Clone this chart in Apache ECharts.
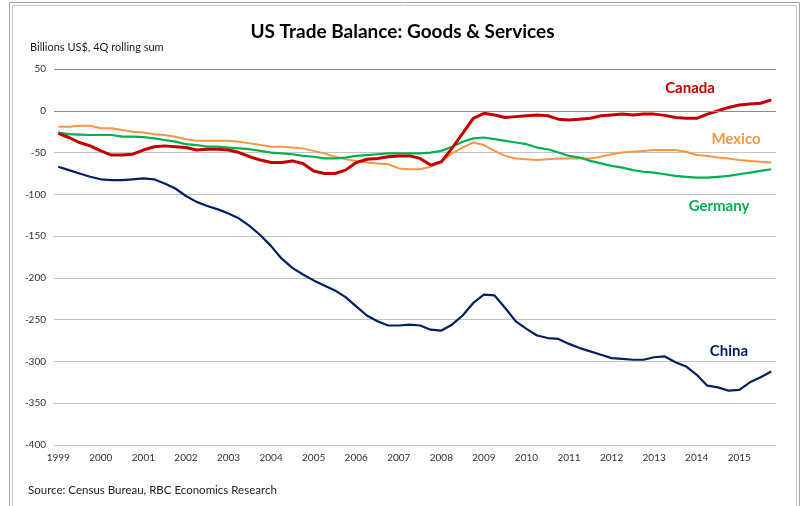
<!DOCTYPE html>
<html>
<head>
<meta charset="utf-8">
<script src="https://cdn.jsdelivr.net/npm/echarts@6/dist/echarts.min.js"></script>
<style>
  html, body { margin: 0; padding: 0; background: #fff; }
  #chart { width: 805px; height: 506px; }
</style>
</head>
<body>
<div id="chart"></div>
<script>
// quarterly, 1999Q1 .. 2015Q4 (billions US$, 4Q rolling sum)
const startYear = 1999
const yearLabels = ['1999', '2000', '2001', '2002', '2003', '2004', '2005', '2006', '2007',
  '2008', '2009', '2010', '2011', '2012', '2013', '2014', '2015']

const canada = [-27, -32, -38, -42, -48, -53, -53, -52, -47, -43, -42, -43, -44, -47, -46, -46,
  -47, -50, -55, -59, -62, -62, -60, -63, -72, -75, -75, -71, -62, -58, -57, -55,
  -54, -54, -57, -65, -61, -45, -27, -9, -3, -5, -8, -7, -6, -5, -6, -10,
  -11, -10, -9, -6, -5, -4, -5, -4, -4, -5.5, -8, -9, -9, -4, 0, 4,
  7, 8, 9, 13]

const mexico = [-19, -19, -18, -18, -21, -21, -23, -25, -26, -28, -29, -31, -34, -36, -36, -36,
  -36, -37, -39, -41, -43, -43, -44, -45, -48, -51, -55, -58, -60, -62, -63, -64,
  -69, -70, -70, -67, -61, -51, -44, -38, -41, -48, -54, -57, -58, -59, -58, -57,
  -57, -57, -57, -55, -52, -50, -49, -48, -47, -47, -47, -49, -53, -54, -56, -57,
  -59, -60, -61, -62]

const germany = [-26, -28, -28.5, -29, -29, -29, -31, -31, -31.5, -33, -35, -37, -40, -41, -43, -43,
  -44, -45, -46, -48, -50, -51, -52, -54, -55, -57, -57, -56, -54, -53, -52, -51,
  -51, -51, -51, -50, -48, -43, -37, -33, -32, -34, -36, -38, -40, -44, -46, -50,
  -54, -56, -60, -63, -66, -68, -71, -73, -74, -76, -78, -79, -80, -80, -79, -78,
  -76, -74, -72, -70]

const china = [-67, -71, -75, -79, -82, -83, -83, -82, -81, -82, -87, -93, -102, -109, -114, -118,
  -123, -129, -138, -149, -162, -177, -188, -196, -203, -209, -215, -223, -234, -245, -252, -257,
  -257, -256, -257, -262, -263, -256, -245, -230, -220, -221, -236, -252, -261, -269, -272, -273,
  -279, -284, -288, -292, -296, -297, -298, -298, -295, -294, -301, -306, -316, -329, -331, -335,
  -334, -325, -319, -312]

const yTicks = { min: -400, max: 50, interval: 50 }

const font = 'Lato, "Open Sans", sans-serif'
const pairs = (arr) => arr.map((v, i) => [i, v])

const chart = echarts.init(document.getElementById('chart'), null, { renderer: 'canvas' })

const lineSeries = (name, data, color, width) => ({
  name, type: 'line', data: pairs(data), showSymbol: false, smooth: false,
  lineStyle: { color, width }, itemStyle: { color }, animation: false
})

chart.setOption({
  backgroundColor: '#fff',
  animation: false,
  title: {
    text: 'US Trade Balance: Goods & Services',
    left: 'center', top: 17,
    textStyle: { fontFamily: font, fontSize: 19, fontWeight: 'bold', color: '#000' }
  },
  grid: { left: 54, right: 29, top: 69, bottom: 61 },
  xAxis: {
    type: 'value',
    min: -0.4, max: 67.45,
    splitLine: { show: false },
    axisLine: { show: false },
    axisTick: { show: false },
    axisLabel: {
      customValues: yearLabels.map((y, i) => i * 4),
      formatter: (v) => String(startYear + Math.round(v / 4)),
      color: '#333', fontFamily: font, fontSize: 10, margin: 8
    }
  },
  yAxis: {
    type: 'value',
    min: yTicks.min, max: yTicks.max, interval: yTicks.interval,
    axisLine: { show: false },
    axisTick: { show: false },
    splitLine: { lineStyle: { color: '#c4c4c4', width: 1 } },
    axisLabel: { color: '#333', fontFamily: font, fontSize: 10, margin: 8 }
  },
  series: [
    Object.assign(lineSeries('Mexico', mexico, '#F79646', 2), {
      markLine: {
        silent: true, symbol: 'none', label: { show: false },
        lineStyle: { color: '#8a8a8a', width: 1, type: 'solid' },
        data: [{ yAxis: 0 }, { yAxis: 50 }]
      }
    }),
    lineSeries('Germany', germany, '#00B050', 2.2),
    lineSeries('China', china, '#002060', 2.2),
    lineSeries('Canada', canada, '#C00000', 3)
  ],
  graphic: [
    { type: 'rect', shape: { x: 9.5, y: 2.5, width: 790, height: 540 }, style: { fill: 'none', stroke: '#a6a6a6', lineWidth: 1 } },
    { type: 'rect', shape: { x: 12.5, y: 5.5, width: 784, height: 540 }, style: { fill: 'none', stroke: '#c8c8c8', lineWidth: 1 } },
    { type: 'text', left: 30, top: 42, style: { text: 'Billions US$, 4Q rolling sum', fontFamily: font, fontSize: 11, fill: '#222' } },
    { type: 'text', left: 28, top: 484, style: { text: 'Source: Census Bureau, RBC Economics Research', fontFamily: font, fontSize: 11.5, fill: '#222' } },
    { type: 'text', x: 690, y: 88, style: { text: 'Canada', fontFamily: font, fontSize: 15, fontWeight: 'bold', fill: '#C00000', align: 'center', verticalAlign: 'middle' } },
    { type: 'text', x: 736, y: 139, style: { text: 'Mexico', fontFamily: font, fontSize: 15, fontWeight: 'bold', fill: '#F79646', align: 'center', verticalAlign: 'middle' } },
    { type: 'text', x: 719, y: 206, style: { text: 'Germany', fontFamily: font, fontSize: 15, fontWeight: 'bold', fill: '#00B050', align: 'center', verticalAlign: 'middle' } },
    { type: 'text', x: 729, y: 351, style: { text: 'China', fontFamily: font, fontSize: 15, fontWeight: 'bold', fill: '#002060', align: 'center', verticalAlign: 'middle' } }
  ]
})
</script>
</body>
</html>
